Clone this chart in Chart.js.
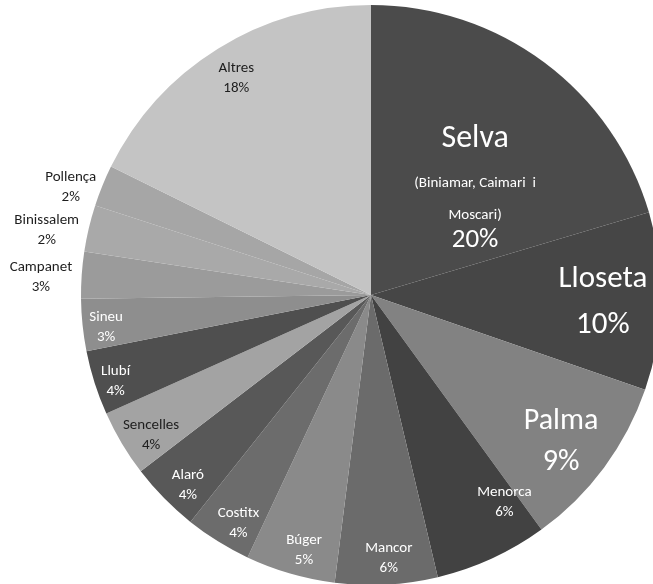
<!DOCTYPE html>
<html>
<head>
<meta charset="utf-8">
<script src="https://cdn.jsdelivr.net/npm/chart.js@4"></script>
<style>
  html, body { margin: 0; padding: 0; background: #ffffff; overflow: hidden; width: 653px; height: 584px; }
  #wrap { position: absolute; left: 0; top: 0; width: 742px; height: 590px; }
</style>
</head>
<body>
<div id="wrap"><canvas id="c"></canvas></div>
<script>
// ---- data ----
const categories = ['Selva', 'Lloseta', 'Palma', 'Menorca', 'Mancor', 'Búger', 'Costitx', 'Alaró', 'Sencelles', 'Llubí', 'Sineu', 'Campanet', 'Binissalem', 'Pollença', 'Altres'];
const shares = [20.4, 9.9, 9.7, 6.3, 5.7, 5.0, 3.7, 3.9, 3.7, 3.6, 2.9, 2.6, 2.6, 2.3, 17.7];
const percentLabels = ['20%', '10%', '9%', '6%', '6%', '5%', '4%', '4%', '4%', '4%', '3%', '3%', '2%', '2%', '18%'];
const selvaSubtitle = ['(Biniamar, Caimari  i', 'Moscari)'];

// ---- styles ----
const sliceColors = ['#4b4b4b', '#464646', '#828282', '#424242', '#6b6b6b', '#8a8a8a', '#6c6c6c', '#585858', '#a3a3a3', '#4f4f4f', '#8e8e8e', '#9b9b9b', '#a9a9a9', '#a6a6a6', '#c4c4c4'];
const textColors = ['#ffffff', '#ffffff', '#ffffff', '#ffffff', '#ffffff', '#ffffff', '#ffffff', '#ffffff', '#1e1e1e', '#ffffff', '#ffffff', '#1e1e1e', '#1e1e1e', '#1e1e1e', '#1e1e1e'];
const labelRadius = [0.51, 0.80, 0.83, 0.85, 0.91, 0.91, 0.91, 0.91, 0.90, 0.93, 0.92, 1.14, 1.14, 1.10, 0.88];
const labelAngleShift = [8.0, 0.5, 1.3, -8.1, -0.8, -1.5, -1.7, -1.6, -1.8, -1.1, -0.9, -0.8, -2.1, -2.4, 0];
const FONT = 'Carlito, Lato, "Open Sans", sans-serif';

function labelLines(i) {
  if (i === 0) {
    return [
      { text: categories[0], size: 32, dy: -51 },
      { text: selvaSubtitle[0], size: 15, dy: -7 },
      { text: selvaSubtitle[1], size: 15, dy: 25 },
      { text: percentLabels[0], size: 27, dy: 50 }
    ];
  }
  if (i === 1) {
    return [
      { text: categories[1], size: 31, dy: -23 },
      { text: percentLabels[1], size: 31, dy: 23 }
    ];
  }
  if (i === 2) {
    return [
      { text: categories[2], size: 30, dy: -21 },
      { text: percentLabels[2], size: 30, dy: 20 }
    ];
  }
  return [
    { text: categories[i], size: 15, dy: -10 },
    { text: percentLabels[i], size: 15, dy: 10 }
  ];
}

const labelPlugin = {
  id: 'sliceLabels',
  afterDatasetsDraw(chart) {
    const ctx = chart.ctx;
    const meta = chart.getDatasetMeta(0);
    meta.data.forEach((arc, i) => {
      const p = arc.getProps(['x', 'y', 'startAngle', 'endAngle', 'outerRadius'], true);
      const mid = (p.startAngle + p.endAngle) / 2 + labelAngleShift[i] * Math.PI / 180;
      const r = p.outerRadius * labelRadius[i];
      const cx = p.x + r * Math.cos(mid);
      const cy = p.y + r * Math.sin(mid);
      ctx.save();
      ctx.fillStyle = textColors[i];
      ctx.textAlign = 'center';
      ctx.textBaseline = 'middle';
      labelLines(i).forEach(l => {
        ctx.font = l.size + 'px ' + FONT;
        ctx.fillText(l.text, cx, cy + l.dy);
      });
      ctx.restore();
    });
  }
};

new Chart(document.getElementById('c'), {
  type: 'pie',
  data: {
    labels: categories,
    datasets: [{
      data: shares,
      backgroundColor: sliceColors,
      borderWidth: 0
    }]
  },
  options: {
    responsive: true,
    maintainAspectRatio: false,
    animation: false,
    layout: { padding: 5 },
    plugins: {
      legend: { display: false },
      tooltip: { enabled: false }
    }
  },
  plugins: [labelPlugin]
});
</script>
</body>
</html>
